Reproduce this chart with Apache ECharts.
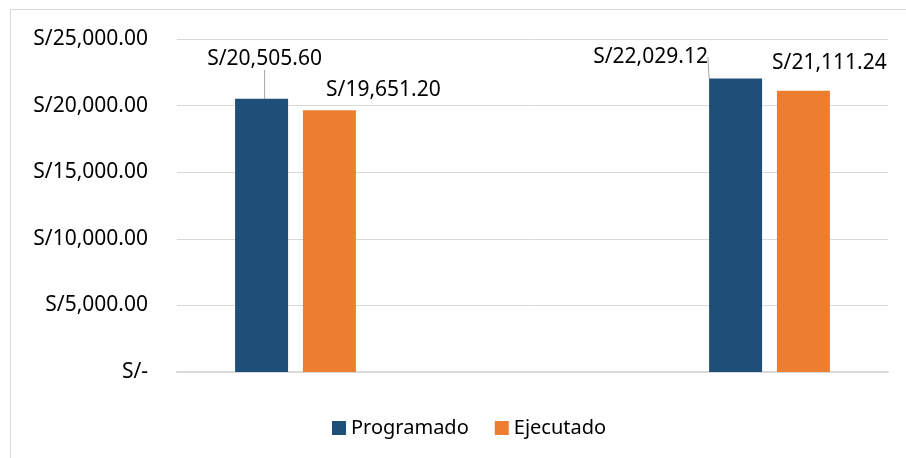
<!DOCTYPE html>
<html>
<head>
<meta charset="utf-8">
<script src="https://cdn.jsdelivr.net/npm/echarts@6/dist/echarts.min.js"></script>
<style>
  html, body { margin: 0; padding: 0; background: #fff; overflow: hidden; }
  #frame {
    position: absolute; left: 10px; top: 9px;
    width: 1000px; height: 600px;
    border: 1px solid #d9d9d9;
  }
  #chart { position: absolute; left: 0; top: 0; width: 906px; height: 458px; }
</style>
</head>
<body>
<div id="frame"></div>
<div id="chart"></div>
<script>
// datos (la categoria del medio va vacia)
const categories = ['', '', ''];
const programado = [20505.60, null, 22029.12];
const ejecutado = [19651.20, null, 21111.24];
const yTicks = [0, 5000, 10000, 15000, 20000, 25000];

function soles(v) {
  if (v === 0) return 'S/-';
  return 'S/' + v.toLocaleString('en-US', { minimumFractionDigits: 2, maximumFractionDigits: 2 });
}

// corrimientos de las etiquetas, como estan en el excel
const progOffsets = [[3, -24], null, [-85, -6]];
const ejecOffsets = [[54, -5], null, [26, -12]];

const font = 'Noto Sans';
const chart = echarts.init(document.getElementById('chart'));

const option = {
  backgroundColor: 'transparent',
  animation: false,
  textStyle: { fontFamily: font },
  grid: { left: 177, right: 18, top: 39, bottom: 86, containLabel: false, outerBoundsMode: 'none' },
  legend: {
    top: 413,
    left: 327,
    icon: 'rect',
    itemWidth: 14,
    itemHeight: 14,
    itemGap: 26,
    textStyle: { fontSize: 20, color: '#000', fontFamily: font },
    data: ['Programado', 'Ejecutado']
  },
  xAxis: {
    type: 'category',
    data: categories,
    axisLine: { show: true, lineStyle: { color: '#d9d9d9', width: 2 } },
    axisTick: { show: false },
    axisLabel: { show: false }
  },
  yAxis: {
    type: 'value',
    min: yTicks[0],
    max: yTicks[yTicks.length - 1],
    interval: 5000,
    axisLine: { show: false },
    axisTick: { show: false },
    splitLine: { lineStyle: { color: '#d9d9d9', width: 1 } },
    axisLabel: {
      margin: 29,
      fontSize: 21,
      color: '#000',
      fontFamily: font,
      formatter: soles
    }
  },
  series: [{
    name: 'Programado',
    type: 'bar',
    barWidth: 53,
    barGap: '28%',
    itemStyle: { color: '#1f4e79' },
    label: {
      show: true,
      position: 'top',
      fontSize: 21,
      color: '#000',
      fontFamily: font,
      formatter: p => soles(p.value)
    },
    labelLine: { show: true, lineStyle: { color: '#a6a6a6', width: 1 } },
    labelLayout: function (params) {
      const o = progOffsets[params.dataIndex];
      return o ? { dx: o[0], dy: o[1] } : {};
    },
    data: programado
  }, {
    name: 'Ejecutado',
    type: 'bar',
    barWidth: 53,
    itemStyle: { color: '#ed7d31' },
    label: {
      show: true,
      position: 'top',
      fontSize: 21,
      color: '#000',
      fontFamily: font,
      formatter: p => soles(p.value)
    },
    labelLayout: function (params) {
      const o = ejecOffsets[params.dataIndex];
      return o ? { dx: o[0], dy: o[1] } : {};
    },
    data: ejecutado
  }]
};

chart.setOption(option);
</script>
</body>
</html>
